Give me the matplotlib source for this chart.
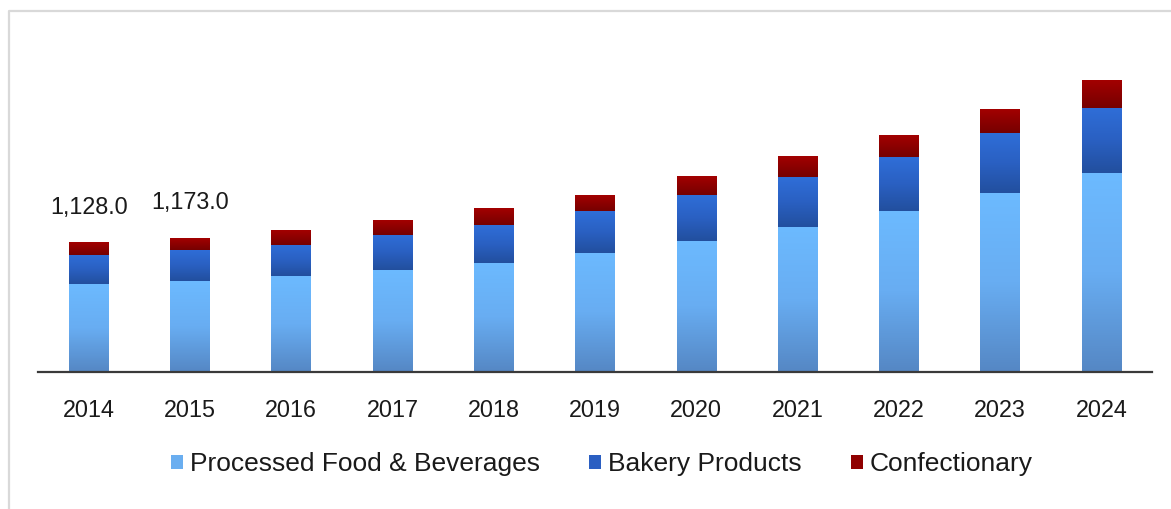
import numpy as np
import matplotlib
matplotlib.use("Agg")
import matplotlib.pyplot as plt
from matplotlib.colors import LinearSegmentedColormap
from matplotlib.patches import Patch
from matplotlib.lines import Line2D

plt.rcParams["font.family"] = ["Liberation Sans", "DejaVu Sans"]

years = ["2014", "2015", "2016", "2017", "2018", "2019", "2020", "2021", "2022", "2023", "2024"]
processed = [766, 792, 837, 889, 956, 1044, 1149, 1269, 1411, 1566, 1741]
bakery = [255, 276, 277, 310, 330, 365, 400, 434, 470, 522, 569]
confectionary = [107, 105, 123, 125, 140, 140, 158, 179, 189, 207, 245]
labelled_totals = {0: "1,128.0", 1: "1,173.0"}

series = [
    ("Processed Food & Beverages", processed, ["#5587c4", "#68adf2", "#6cbaff"], "#6aaef0"),
    ("Bakery Products", bakery, ["#224f9e", "#2a60c2", "#2f6ed8"], "#2b5fc2"),
    ("Confectionary", confectionary, ["#760000", "#8c0000", "#a30000"], "#900000"),
]

W, H = 1171, 509
fig = plt.figure(figsize=(W / 100, H / 100), dpi=100)

# light frame along top and left edge
fig.add_artist(Line2D([9 / W, 9 / W, 1.0], [0.0, 1 - 11 / H, 1 - 11 / H],
                      transform=fig.transFigure, color="#d9d9d9", lw=1.6))

ax = fig.add_axes([38 / W, 137 / H, (1152 - 38) / W, 332 / H])

x = np.arange(len(years))
bottom = np.zeros(len(years))
grad = np.linspace(0, 1, 256).reshape(-1, 1)
for name, vals, stops, solid in series:
    vals = np.array(vals, dtype=float)
    bars = ax.bar(x, vals, width=0.39, bottom=bottom, color=solid, linewidth=0, zorder=2)
    cmap = LinearSegmentedColormap.from_list(name, stops)
    for rect in bars:
        x0, y0 = rect.get_x(), rect.get_y()
        ax.imshow(grad, extent=[x0, x0 + rect.get_width(), y0, y0 + rect.get_height()],
                  origin="lower", cmap=cmap, aspect="auto", interpolation="bilinear", zorder=3)
    bottom += vals

for i, txt in labelled_totals.items():
    ax.annotate(txt, (x[i], bottom[i]), xytext=(0, 29), textcoords="offset pixels",
                ha="center", va="baseline", fontsize=16.8, color="#1a1a1a")

ax.set_xlim(-0.5, len(years) - 0.5)
ax.set_ylim(0, 2905)
ax.set_xticks(x)
ax.set_xticklabels(years, fontsize=16.8, color="#1a1a1a")
ax.tick_params(axis="x", length=0, pad=19.6)
ax.set_yticks([])
for s in ["top", "left", "right"]:
    ax.spines[s].set_visible(False)
ax.spines["bottom"].set_color("#3a3a3a")
ax.spines["bottom"].set_linewidth(1.6)
ax.spines["bottom"].set_zorder(5)

handles = [Patch(facecolor=solid, edgecolor="none", label=name) for name, _, _, solid in series]
fig.legend(handles=handles, loc="center", bbox_to_anchor=(602 / W, 1 - 464 / H), ncol=3,
           frameon=False, fontsize=19, handlelength=0.45, handleheight=0.45,
           handletextpad=0.27, columnspacing=1.85, labelcolor="#1a1a1a")

fig.savefig("out.png", dpi=100)
